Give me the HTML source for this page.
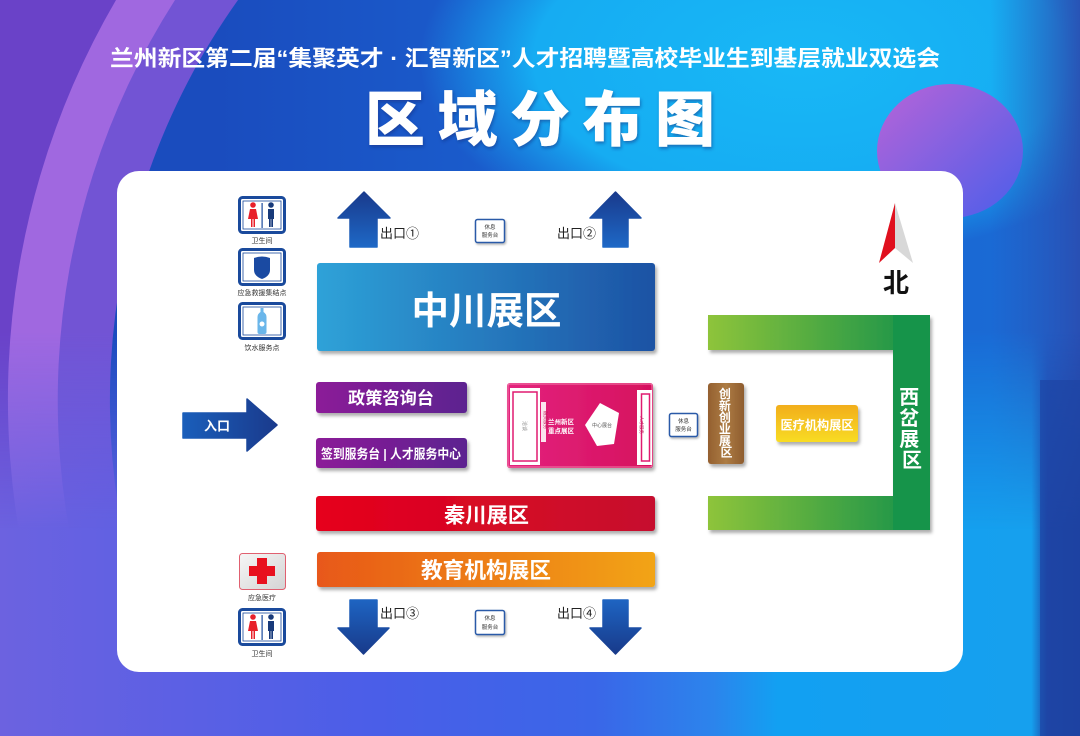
<!DOCTYPE html>
<html><head><meta charset="utf-8">
<style>
html,body{margin:0;padding:0;width:1080px;height:736px;overflow:hidden;background:#3a5ee8;}
#wrap{position:absolute;left:0;top:0;width:1080px;height:736px;overflow:hidden;}
svg{display:block;overflow:hidden;}
text{font-family:"Liberation Sans","Noto Sans CJK SC",sans-serif;}
</style></head>
<body>
<div id="wrap">
<svg width="1080" height="736" viewBox="0 0 1080 736" xmlns="http://www.w3.org/2000/svg">
<defs>
  <linearGradient id="bgBottom" x1="0" y1="0" x2="1" y2="0">
    <stop offset="0" stop-color="#6c62e0"/>
    <stop offset="0.35" stop-color="#4a5ee8"/>
    <stop offset="0.55" stop-color="#3a66e8"/>
    <stop offset="0.66" stop-color="#2c84ec"/>
    <stop offset="0.72" stop-color="#12a0f2"/>
    <stop offset="0.955" stop-color="#16a0ee"/>
    <stop offset="0.97" stop-color="#1e46a8"/>
    <stop offset="1" stop-color="#1c3e9c"/>
  </linearGradient>
  <linearGradient id="fadeV" x1="0" y1="0" x2="0" y2="736" gradientUnits="userSpaceOnUse">
    <stop offset="0" stop-color="#fff"/>
    <stop offset="0.45" stop-color="#fff"/>
    <stop offset="0.72" stop-color="#000"/>
  </linearGradient>
  <mask id="topMask" maskUnits="userSpaceOnUse" x="0" y="0" width="1080" height="736"><rect x="0" y="0" width="1080" height="736" fill="url(#fadeV)"/></mask>
  <linearGradient id="innerBlue" x1="0" y1="0" x2="1080" y2="0" gradientUnits="userSpaceOnUse">
    <stop offset="0.2" stop-color="#1a4cbe"/>
    <stop offset="0.45" stop-color="#1a5ccc"/>
    <stop offset="1" stop-color="#1a6cd6"/>
  </linearGradient>
  <radialGradient id="cyan" gradientUnits="userSpaceOnUse" cx="800" cy="60" r="380" gradientTransform="translate(800 60) scale(1 0.53) translate(-800 -60)">
    <stop offset="0" stop-color="#18b8f6"/>
    <stop offset="0.7" stop-color="#16acf2"/>
    <stop offset="1" stop-color="#16a4f0" stop-opacity="0"/>
  </radialGradient>
  <linearGradient id="rightDark" x1="0" y1="0" x2="1" y2="0">
    <stop offset="0" stop-color="#2a56b8" stop-opacity="0"/>
    <stop offset="1" stop-color="#2a4cb0" stop-opacity="0.9"/>
  </linearGradient>
  <linearGradient id="purpleCircle" x1="0" y1="0" x2="1" y2="1">
    <stop offset="0" stop-color="#b864d8"/>
    <stop offset="1" stop-color="#4a5eea"/>
  </linearGradient>

  <linearGradient id="upArrow" x1="0" y1="0" x2="0" y2="1">
    <stop offset="0" stop-color="#193a8c"/>
    <stop offset="1" stop-color="#1e68c6"/>
  </linearGradient>
  <linearGradient id="downArrow" x1="0" y1="0" x2="0" y2="1">
    <stop offset="0" stop-color="#1e64c2"/>
    <stop offset="1" stop-color="#183a8a"/>
  </linearGradient>
  <linearGradient id="entryArrow" x1="0" y1="0" x2="1" y2="0">
    <stop offset="0" stop-color="#1a5eba"/>
    <stop offset="1" stop-color="#1a3a8c"/>
  </linearGradient>

  <linearGradient id="gBlue" x1="0" y1="0" x2="1" y2="0">
    <stop offset="0" stop-color="#2ea2d8"/>
    <stop offset="1" stop-color="#1d52a4"/>
  </linearGradient>
  <linearGradient id="gPurple" x1="0" y1="0" x2="1" y2="0">
    <stop offset="0" stop-color="#8c1c98"/>
    <stop offset="1" stop-color="#5c2290"/>
  </linearGradient>
  <linearGradient id="gPink" x1="0" y1="0" x2="1" y2="0">
    <stop offset="0" stop-color="#e3247e"/>
    <stop offset="1" stop-color="#d6105e"/>
  </linearGradient>
  <linearGradient id="gBrown" x1="0" y1="0" x2="1" y2="0">
    <stop offset="0" stop-color="#946030"/>
    <stop offset="0.5" stop-color="#ad7c44"/>
    <stop offset="1" stop-color="#8e5c2e"/>
  </linearGradient>
  <linearGradient id="gYellow" x1="0" y1="0" x2="0" y2="1">
    <stop offset="0" stop-color="#f2ae1e"/>
    <stop offset="1" stop-color="#f8dc22"/>
  </linearGradient>
  <linearGradient id="gRed" x1="0" y1="0" x2="1" y2="0">
    <stop offset="0" stop-color="#e6001c"/>
    <stop offset="1" stop-color="#c6102e"/>
  </linearGradient>
  <linearGradient id="gOrange" x1="0" y1="0" x2="1" y2="0">
    <stop offset="0" stop-color="#e8581a"/>
    <stop offset="1" stop-color="#f2a412"/>
  </linearGradient>
  <linearGradient id="gGreen" x1="708" y1="0" x2="930" y2="0" gradientUnits="userSpaceOnUse">
    <stop offset="0" stop-color="#8ec43a"/>
    <stop offset="1" stop-color="#12904a"/>
  </linearGradient>
  <linearGradient id="gCross" x1="0" y1="0" x2="1" y2="1">
    <stop offset="0" stop-color="#f6f6f6"/>
    <stop offset="1" stop-color="#d4d4d4"/>
  </linearGradient>
  <filter id="sh" x="-10%" y="-20%" width="125%" height="150%">
    <feDropShadow dx="2" dy="3" stdDeviation="1.5" flood-color="#000" flood-opacity="0.32"/>
  </filter>
  <filter id="shs" x="-20%" y="-20%" width="150%" height="150%">
    <feDropShadow dx="1" dy="1.5" stdDeviation="1" flood-color="#000" flood-opacity="0.3"/>
  </filter>
  <filter id="tsh" x="-10%" y="-20%" width="120%" height="150%">
    <feDropShadow dx="1" dy="2" stdDeviation="1.5" flood-color="#0a2a7a" flood-opacity="0.5"/>
  </filter>
</defs>

<!-- ===== Background ===== -->
<rect x="0" y="0" width="1080" height="736" fill="url(#bgBottom)"/>
<g mask="url(#topMask)">
  <rect x="0" y="0" width="1080" height="736" fill="#6a42c8"/>
  <path d="M116,0 H1080 V736 H83 A792,792 0 0,1 116,0 Z" fill="#a068e0"/>
  <path d="M175,0 H1080 V736 H138 A742,742 0 0,1 175,0 Z" fill="#7254d4"/>
  <path d="M238,0 H1080 V736 H197 A690,690 0 0,1 238,0 Z" fill="url(#innerBlue)"/>
  <rect x="420" y="0" width="660" height="260" fill="url(#cyan)"/>
  <rect x="990" y="0" width="90" height="736" fill="url(#rightDark)"/>
</g>
<rect x="1040" y="380" width="40" height="356" fill="#1e44a4" opacity="0.7"/>
<ellipse cx="950" cy="151" rx="73" ry="67" fill="url(#purpleCircle)"/>

<!-- Titles -->
<text x="525" y="66" font-size="22" font-weight="700" fill="#ffffff" text-anchor="middle" textLength="830" lengthAdjust="spacingAndGlyphs">兰州新区第二届“集聚英才 · 汇智新区”人才招聘暨高校毕业生到基层就业双选会</text>
<text x="540" y="141" font-size="60" font-weight="900" fill="#ffffff" text-anchor="middle" textLength="350" lengthAdjust="spacing" filter="url(#tsh)" style="font-family:'Noto Sans CJK SC',sans-serif;">区域分布图</text>

<!-- ===== White panel ===== -->
<rect x="117" y="171" width="846" height="501" rx="22" ry="22" fill="#ffffff"/>

<!-- Left icons -->
<g>
  <rect x="239.5" y="197.5" width="45" height="35" rx="3" fill="#fff" stroke="#1a4a9c" stroke-width="3"/>
  <rect x="243" y="201" width="38" height="28" fill="none" stroke="#1a4a9c" stroke-width="0.8"/>
  <circle cx="253" cy="205" r="2.8" fill="#e8202a"/>
  <path d="M250,209 h6 l2,10 h-3 v8 h-1.5 v-8 h-1 v8 h-1.5 v-8 h-3 z" fill="#e8202a"/>
  <rect x="261.5" y="203" width="1.2" height="25" fill="#1a4a9c"/>
  <circle cx="271" cy="205" r="2.8" fill="#183a7a"/>
  <path d="M268,209 h6 v10 h-1 v8 h-1.7 v-8 h-0.6 v8 h-1.7 v-8 h-1 z" fill="#183a7a"/>
</g>
<text x="262" y="243" font-size="7" fill="#333" text-anchor="middle">卫生间</text>
<g>
  <rect x="239.5" y="249.5" width="45" height="35" rx="3" fill="#fff" stroke="#1a4a9c" stroke-width="3"/>
  <rect x="243" y="253" width="38" height="28" fill="none" stroke="#1a4a9c" stroke-width="0.8"/>
  <path d="M254,258 Q262,255 270,258 V270 Q270,276 262,279 Q254,276 254,270 Z" fill="#1a4aa2"/>
</g>
<text x="262" y="295" font-size="7" fill="#333" text-anchor="middle">应急救援集结点</text>
<g>
  <rect x="239.5" y="303.5" width="45" height="35" rx="3" fill="#fff" stroke="#1a4a9c" stroke-width="3"/>
  <rect x="243" y="307" width="38" height="28" fill="none" stroke="#1a4a9c" stroke-width="0.8"/>
  <path d="M260.5,308 h3 v4 q3,2 3,5 v15 q0,2 -2,2 h-5 q-2,0 -2,-2 v-15 q0,-3 3,-5 z" fill="#6ab6ea"/>
  <circle cx="262" cy="324" r="2.5" fill="#fff"/>
</g>
<text x="262" y="350" font-size="7" fill="#333" text-anchor="middle">饮水服务点</text>

<!-- Exit arrows top -->
<polygon points="364,192 390,218 377,218 377,247 350,247 350,218 338,218" fill="url(#upArrow)" stroke="url(#upArrow)" stroke-width="1.5" stroke-linejoin="round"/>
<text x="380" y="238" font-size="13" fill="#222">出口①</text>
<polygon points="615.5,192 641,218 628,218 628,247 603,247 603,218 590,218" fill="url(#upArrow)" stroke="url(#upArrow)" stroke-width="1.5" stroke-linejoin="round"/>
<text x="557" y="238" font-size="13" fill="#222">出口②</text>

<g filter="url(#shs)">
  <rect x="475.5" y="219.5" width="29" height="23" rx="2" fill="#fff" stroke="#2a5aa8" stroke-width="1.5"/>
</g>
<text x="490" y="229" font-size="5.5" fill="#333" text-anchor="middle">休息</text>
<text x="490" y="237" font-size="5.5" fill="#333" text-anchor="middle">服务台</text>

<!-- 中川展区 -->
<rect x="317" y="263" width="338" height="88" rx="3" fill="url(#gBlue)" filter="url(#sh)"/>
<text x="486.5" y="324" font-size="38" font-weight="700" fill="#fff" text-anchor="middle" textLength="150" lengthAdjust="spacingAndGlyphs">中川展区</text>

<!-- Compass -->
<polygon points="895,203 879,263 895,248" fill="#e0101e"/>
<polygon points="895,203 913,263 895,248" fill="#d8d8d8"/>
<text x="896" y="292" font-size="26" font-weight="700" fill="#111" text-anchor="middle">北</text>

<!-- Green U -->
<path d="M708,315 H930 V530 H708 V496 H893 V350 H708 Z" fill="url(#gGreen)" filter="url(#sh)"/>
<rect x="893" y="315" width="37" height="215" fill="#16944a"/>
<text font-size="20" font-weight="700" fill="#fff" text-anchor="middle">
  <tspan x="912" y="404">西</tspan>
  <tspan x="912" y="425">岔</tspan>
  <tspan x="912" y="446">展</tspan>
  <tspan x="912" y="467">区</tspan>
</text>

<!-- 政策咨询台 -->
<rect x="316" y="382" width="151" height="31" rx="3" fill="url(#gPurple)" filter="url(#sh)"/>
<text x="391" y="404" font-size="17" font-weight="700" fill="#fff" text-anchor="middle" textLength="86" lengthAdjust="spacingAndGlyphs">政策咨询台</text>
<rect x="316" y="438" width="151" height="30" rx="3" fill="url(#gPurple)" filter="url(#sh)"/>
<text x="391" y="458.5" font-size="13" font-weight="700" fill="#fff" text-anchor="middle" textLength="140" lengthAdjust="spacingAndGlyphs">签到服务台 | 人才服务中心</text>

<!-- Entry arrow -->
<polygon points="183,413 247,413 247,399 277,425 247,451 247,438 183,438" fill="url(#entryArrow)" stroke="url(#entryArrow)" stroke-width="1.5" stroke-linejoin="round"/>
<text x="217" y="430.5" font-size="13" font-weight="700" fill="#fff" text-anchor="middle">入口</text>

<!-- Pink central zone -->
<rect x="507" y="383" width="146" height="85" rx="3" fill="url(#gPink)" filter="url(#sh)"/>
<rect x="508" y="384" width="144" height="83" rx="2" fill="none" stroke="#f27aa8" stroke-width="1"/>
<rect x="510" y="388" width="30" height="77" fill="#fff"/>
<rect x="513" y="392" width="24" height="69" fill="#fff" stroke="#e01a70" stroke-width="1.5"/>
<text x="525" y="428" font-size="5" fill="#888" text-anchor="middle" transform="rotate(90 525 426)">洽谈</text>
<rect x="541" y="402" width="5" height="40" fill="#fbe4ee"/>
<text x="544" y="420" font-size="4.5" fill="#c01a5a" text-anchor="middle" transform="rotate(90 544 420)">融资服务</text>
<text x="561" y="424" font-size="6.5" font-weight="700" fill="#fff" text-anchor="middle">兰州新区</text>
<text x="561" y="433" font-size="6.5" font-weight="700" fill="#fff" text-anchor="middle">重点展区</text>
<polygon points="600,403 619,413 614,444 597,446 585,425" fill="#fff"/>
<text x="602" y="427" font-size="5" fill="#555" text-anchor="middle">中心展台</text>
<rect x="637" y="390" width="15" height="75" fill="#fff"/>
<rect x="641.5" y="394" width="8" height="67" fill="#fff" stroke="#e01a70" stroke-width="1.5"/>
<text x="640" y="425" font-size="4.5" fill="#c01a5a" text-anchor="middle" transform="rotate(90 640 425)">人才服务</text>

<g filter="url(#shs)">
  <rect x="669.5" y="413.5" width="28" height="23" rx="2" fill="#fff" stroke="#2a5aa8" stroke-width="1.5"/>
</g>
<text x="683.5" y="423" font-size="5.5" fill="#333" text-anchor="middle">休息</text>
<text x="683.5" y="431" font-size="5.5" fill="#333" text-anchor="middle">服务台</text>

<!-- 创新创业展区 -->
<rect x="708" y="383" width="36" height="81" rx="3" fill="url(#gBrown)" filter="url(#sh)"/>
<text font-size="12" font-weight="700" fill="#fff" text-anchor="middle">
  <tspan x="726.5" y="398">创</tspan>
  <tspan x="726.5" y="410">新</tspan>
  <tspan x="726.5" y="421.5">创</tspan>
  <tspan x="726.5" y="433">业</tspan>
  <tspan x="726.5" y="445">展</tspan>
  <tspan x="726.5" y="456.5">区</tspan>
</text>

<!-- 医疗机构展区 -->
<rect x="776" y="405" width="82" height="37" rx="3" fill="url(#gYellow)" filter="url(#sh)"/>
<text x="817" y="429.5" font-size="12.5" font-weight="700" fill="#fff" text-anchor="middle" textLength="73" lengthAdjust="spacingAndGlyphs">医疗机构展区</text>

<!-- 秦川展区 -->
<rect x="316" y="496" width="339" height="35" rx="3" fill="url(#gRed)" filter="url(#sh)"/>
<text x="486.5" y="522.5" font-size="21" font-weight="700" fill="#fff" text-anchor="middle" textLength="85" lengthAdjust="spacingAndGlyphs">秦川展区</text>

<!-- 教育机构展区 -->
<rect x="317" y="552" width="338" height="35" rx="3" fill="url(#gOrange)" filter="url(#sh)"/>
<text x="486" y="578" font-size="22" font-weight="700" fill="#fff" text-anchor="middle" textLength="130" lengthAdjust="spacingAndGlyphs">教育机构展区</text>

<!-- Red cross icon -->
<rect x="239.5" y="553.5" width="46" height="36" rx="3" fill="url(#gCross)" stroke="#e06070" stroke-width="1"/>
<rect x="257" y="558" width="10" height="26" fill="#e8101e"/>
<rect x="249" y="566" width="26" height="10" fill="#e8101e"/>
<text x="262" y="600" font-size="7" fill="#333" text-anchor="middle">应急医疗</text>

<!-- Toilet 2 -->
<g>
  <rect x="239.5" y="609.5" width="45" height="35" rx="3" fill="#fff" stroke="#1a4a9c" stroke-width="3"/>
  <rect x="243" y="613" width="38" height="28" fill="none" stroke="#1a4a9c" stroke-width="0.8"/>
  <circle cx="253" cy="617" r="2.8" fill="#e8202a"/>
  <path d="M250,621 h6 l2,10 h-3 v8 h-1.5 v-8 h-1 v8 h-1.5 v-8 h-3 z" fill="#e8202a"/>
  <rect x="261.5" y="615" width="1.2" height="25" fill="#1a4a9c"/>
  <circle cx="271" cy="617" r="2.8" fill="#183a7a"/>
  <path d="M268,621 h6 v10 h-1 v8 h-1.7 v-8 h-0.6 v8 h-1.7 v-8 h-1 z" fill="#183a7a"/>
</g>
<text x="262" y="656" font-size="7" fill="#333" text-anchor="middle">卫生间</text>

<!-- Exit arrows bottom -->
<polygon points="350,600 377,600 377,628 389,628 363.5,654 338,628 350,628" fill="url(#downArrow)" stroke="url(#downArrow)" stroke-width="1.5" stroke-linejoin="round"/>
<text x="380" y="618" font-size="13" fill="#222">出口③</text>
<polygon points="603,600 628,600 628,628 641,628 615.5,654 590,628 603,628" fill="url(#downArrow)" stroke="url(#downArrow)" stroke-width="1.5" stroke-linejoin="round"/>
<text x="557" y="618" font-size="13" fill="#222">出口④</text>

<g filter="url(#shs)">
  <rect x="475.5" y="610.5" width="29" height="24" rx="2" fill="#fff" stroke="#2a5aa8" stroke-width="1.5"/>
</g>
<text x="490" y="620" font-size="5.5" fill="#333" text-anchor="middle">休息</text>
<text x="490" y="629" font-size="5.5" fill="#333" text-anchor="middle">服务台</text>
</svg>
</div>
</body></html>
